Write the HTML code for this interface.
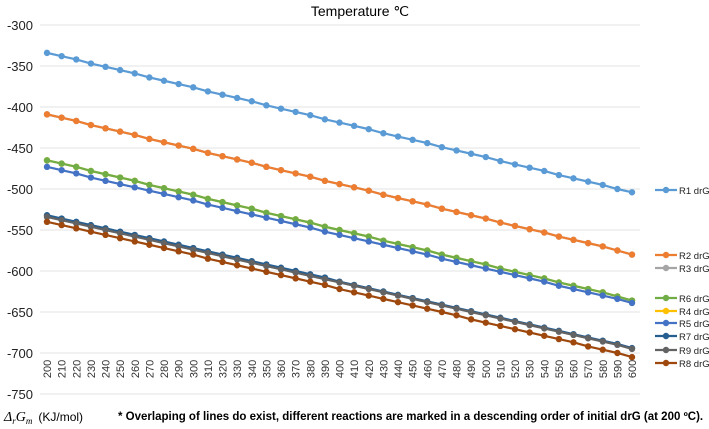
<!DOCTYPE html>
<html><head><meta charset="utf-8"><style>
body{margin:0;background:#fff;width:709px;height:429px;overflow:hidden;font-family:"Liberation Sans",sans-serif}
svg{display:block}
</style></head><body>
<svg id="chart" width="709" height="429">
<text x="360" y="16" text-anchor="middle" font-size="14" fill="#000">Temperature ℃</text>
<g id="grid"></g><g id="yt"></g><g id="xt"></g><g id="series"></g><g id="legend"></g>
<text x="4" y="421" font-size="14" font-family="Liberation Serif, serif" font-style="italic">Δ<tspan font-size="9" dy="3">r</tspan><tspan dy="-3">G</tspan><tspan font-size="9" dy="3">m</tspan><tspan font-style="normal" font-family="Liberation Sans, sans-serif" font-size="12" dy="-3" dx="6">(KJ/mol)</tspan></text>
<text x="118" y="420" font-size="11.5" font-weight="bold">* Overlaping of lines do exist, different reactions are marked in a descending order of initial drG (at 200 ºC).</text>
</svg>
<script>
const temps=[200,210,220,230,240,250,260,270,280,290,300,310,320,330,340,350,360,370,380,390,400,410,420,430,440,450,460,470,480,490,500,510,520,530,540,550,560,570,580,590,600];
const yTicks=[-300,-350,-400,-450,-500,-550,-600,-650,-700,-750];
const R1=[-334,-338,-342,-347,-351,-355,-359,-364,-368,-372,-376,-381,-385,-389,-393,-398,-402,-406,-410,-415,-419,-423,-427,-432,-436,-440,-444,-449,-453,-457,-461,-466,-470,-474,-478,-483,-487,-491,-495,-500,-504];
const R2=[-409,-413,-417,-422,-426,-430,-434,-439,-443,-447,-451,-456,-460,-464,-468,-473,-477,-481,-485,-490,-494,-498,-502,-507,-511,-515,-519,-524,-528,-532,-536,-541,-545,-549,-553,-558,-562,-566,-570,-575,-580];
const R3=[-409,-413,-417,-422,-426,-430,-434,-439,-443,-447,-451,-456,-460,-464,-468,-473,-477,-481,-485,-490,-494,-498,-502,-507,-511,-515,-519,-524,-528,-532,-536,-541,-545,-549,-553,-558,-562,-566,-570,-575,-580];
const R6=[-465,-469,-473,-478,-482,-486,-490,-495,-499,-503,-507,-512,-516,-520,-524,-529,-533,-537,-541,-546,-550,-554,-558,-563,-567,-571,-575,-580,-584,-588,-592,-597,-601,-605,-609,-614,-618,-622,-626,-631,-636];
const R4=[-465,-469,-473,-478,-482,-486,-490,-495,-499,-503,-507,-512,-516,-520,-524,-529,-533,-537,-541,-546,-550,-554,-558,-563,-567,-571,-575,-580,-584,-588,-592,-597,-601,-605,-609,-614,-618,-622,-626,-631,-636];
const R5=[-473,-477,-481,-486,-490,-494,-498,-502,-506,-510,-514,-519,-523,-527,-531,-535,-539,-543,-547,-552,-556,-560,-564,-568,-572,-576,-580,-585,-589,-593,-597,-601,-605,-609,-613,-618,-622,-626,-630,-634,-639];
const R7=[-532,-536,-540,-544,-548,-552,-556,-560,-564,-568,-572,-576,-580,-584,-588,-592,-596,-600,-604,-608,-613,-617,-621,-625,-629,-633,-637,-641,-645,-649,-653,-657,-661,-665,-669,-673,-677,-681,-685,-689,-694];
const R9=[-534,-538,-542,-546,-550,-554,-558,-562,-566,-570,-574,-578,-582,-586,-590,-594,-598,-602,-606,-610,-614,-618,-622,-626,-630,-634,-638,-642,-646,-650,-654,-658,-662,-666,-670,-674,-678,-682,-686,-690,-695];
const R8=[-540,-544,-548,-552,-556,-560,-564,-568,-572,-576,-580,-585,-589,-593,-597,-601,-605,-609,-613,-617,-622,-626,-630,-634,-638,-642,-646,-650,-654,-659,-663,-667,-671,-675,-679,-683,-687,-692,-696,-700,-705];
const seriesNames=["R3","R2","R1","R4","R6","R5","R7","R9","R8"];
const seriesData=[R3,R2,R1,R4,R6,R5,R7,R9,R8];
const seriesColors=["#A5A5A5","#ED7D31","#5B9BD5","#FFC000","#70AD47","#4472C4","#255E91","#636363","#9E480E"];
const legendOrder=["R1","R2","R3","R6","R4","R5","R7","R9","R8"];
const legendY=[190,255,268,298,311,323,336,350,363];

const NS="http://www.w3.org/2000/svg";
const x=t=>47+(t-200)*(585/400);
const y=v=>25+(-300-v)*(41/50);
function mk(tag,attrs,parent){const e=document.createElementNS(NS,tag);for(const k in attrs)e.setAttribute(k,attrs[k]);parent.appendChild(e);return e;}
const g=document.getElementById('grid'),yt=document.getElementById('yt'),xt=document.getElementById('xt'),sg=document.getElementById('series'),lg=document.getElementById('legend');
yTicks.forEach(v=>{
 const l=mk('line',{x1:40,x2:640,y1:y(v),y2:y(v),stroke:'#e3e3e3','stroke-width':1},g);
 
 
 const t=mk('text',{x:33,y:y(v)+5,'text-anchor':'end','font-size':13,fill:'#222'},yt);
 t.textContent=v;
 
 
});
temps.forEach(tp=>{
 const t=mk('text',{x:0,y:0,'font-size':11,fill:'#333','text-anchor':'middle',transform:`translate(${x(tp)+4},369) rotate(-90)`},xt);
 t.textContent=tp;
 
 
});
seriesData.forEach((d,i)=>{
 const c=seriesColors[i];
 const grp=mk('g',{},sg);
 
 
 const p=mk('polyline',{points:d.map((v,j)=>x(temps[j])+','+y(v)).join(' '),fill:'none',stroke:c,'stroke-width':2.2},grp);
 
 
 d.forEach((v,j)=>{
  const m=mk('circle',{cx:x(temps[j]),cy:y(v),r:3.2,fill:c},grp);
  
  
 });
});
legendOrder.forEach((n,i)=>{
 const c=seriesColors[seriesNames.indexOf(n)];
 const e=mk('g',{},lg);
 
 
 mk('line',{x1:655,x2:677,y1:legendY[i],y2:legendY[i],stroke:c,'stroke-width':2.2},e);
 mk('circle',{cx:666,cy:legendY[i],r:3.2,fill:c},e);
 const t=mk('text',{x:679,y:legendY[i]+4,'font-size':9.5,fill:'#222'},e);
 t.textContent=n+' drG';
});
</script>
</body></html>
